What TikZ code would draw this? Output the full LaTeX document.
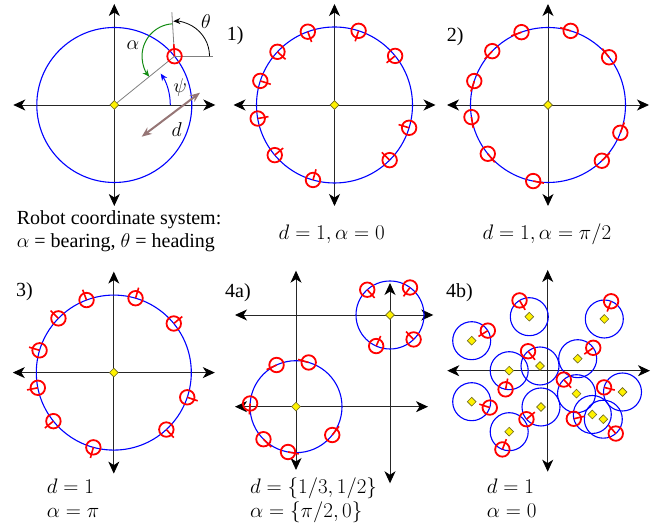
\RequirePackage{fix-cm}
\documentclass[tikz,border=0pt]{standalone}
\usepackage[no-math]{fontspec}
\setmainfont{Liberation Serif}
\usetikzlibrary{arrows.meta,shapes.geometric,calc}
\definecolor{dcol}{RGB}{150,118,118}
\definecolor{acol}{RGB}{20,140,20}
\begin{document}
\begin{tikzpicture}[x=1pt,y=1pt,
  font=\fontsize{20}{24}\selectfont,
  axis/.style={line width=0.9pt, black!85,
    {Stealth[length=12pt,width=11pt,inset=3.5pt,black]}-{Stealth[length=12pt,width=11pt,inset=3.5pt,black]}},
  ring/.style={blue, line width=1.1pt},
  robot/.style={circle, draw=red, line width=1.8pt, minimum size=14.5pt, inner sep=0pt},
  hdg/.style={red, line width=1.6pt},
  ctr/.style={diamond, draw=olive!70!black, fill=yellow, line width=0.6pt, minimum size=9pt, inner sep=0pt},
  guide/.style={gray, line width=0.8pt},
  lab/.style={anchor=base west, inner sep=0pt},
  mlab/.style={anchor=base, inner sep=0pt, font=\fontsize{21}{25}\selectfont},
  mlabw/.style={anchor=base west, inner sep=0pt, font=\fontsize{21}{25}\selectfont},
  smallarrow/.style={-{Stealth[length=7pt,width=6pt]}}]
\useasboundingbox (0,0) rectangle (659,529);

% ---------------- Panel 0: robot coordinate system
\coordinate (O0) at (114.3,424);
\draw[axis] (O0) ++(-101,0) -- ++(202,0);
\draw[axis] (O0) ++(0,101) -- ++(0,-202);
\draw[ring] (O0) circle[radius=77.5pt];
\coordinate (R0) at ($(O0)+(39:77.5)$);
\draw[guide] (O0) -- (R0);
\draw[guide] (R0) -- ++(93.5:44);
\draw[guide] (R0) -- ++(38,0);
\draw[black, line width=0.8pt, smallarrow] (R0) ++(35,0) arc[start angle=0, end angle=92, radius=35pt];
\draw[acol, line width=1pt, smallarrow] (R0) ++(94:32.5) arc[start angle=94, end angle=219, radius=32.5pt];
\draw[blue, line width=1pt, smallarrow] (O0) ++(56,0) arc[start angle=0, end angle=34, radius=56pt];
\node[robot] (r0) at (R0) {};
\draw[hdg] (r0.center) -- ++(93.5:12);
\node[ctr] (c0) at (O0) {};
\coordinate (d1) at (141.7,392.3);
\coordinate (d2) at (200,436.3);
\draw[dcol, line width=2pt, {Stealth[length=10pt,width=8pt]}-{Stealth[length=10pt,width=8pt]}] (d1) -- (d2);
\node (la) at (133,484) {$\alpha$};
\node (lt) at (206,507.3) {$\theta$};
\node (lp) at (180,441) {$\psi$};
\node (ld) at (176.7,399) {$d$};
\node[lab] (cap1) at (16.7,304.7) {Robot coordinate system:};
\node[lab] (cap2) at (16.7,281.3) {$\alpha$ = bearing, $\theta$ = heading};

% ---------------- Panel 1
\coordinate (O1) at (334.5,424);
\draw[axis] (O1) ++(-101,0) -- ++(202,0);
\draw[axis] (O1) ++(0,101) -- ++(0,-202);
\draw[ring] (O1) circle[radius=78pt];
\node[ctr] (c1) at (O1) {};
\foreach \p [count=\i] in {110,72,39,-17,-45,-106,-140,-170,162,137} {
  \node[robot] (ra\i) at ($(O1)+(\p:78)$) {};
  \draw[hdg] (ra\i.center) -- ++(\p+180:11);
}
\node[lab] (l1) at (226.7,488) {1)};
\node[mlab] (m1) at (331.7,289) {$d=1, \alpha=0$};

% ---------------- Panel 2
\coordinate (O2) at (548,424);
\draw[axis] (O2) ++(-101,0) -- ++(202,0);
\draw[axis] (O2) ++(0,101) -- ++(0,-202);
\draw[ring] (O2) circle[radius=77.5pt];
\node[ctr] (c2) at (O2) {};
\foreach \p [count=\i] in {110,73,38,-21,-46,-101,-141,-171,162,136} {
  \node[robot] (rb\i) at ($(O2)+(\p:77.5)$) {};
  \draw[hdg] (rb\i.center) -- ++(\p+90:11);
}
\node[lab] (l2) at (446.7,487.5) {2)};
\node[mlab] (m2) at (547,289) {$d=1, \alpha=\pi/2$};

% ---------------- Panel 3
\coordinate (O3) at (113.8,156.4);
\draw[axis] (O3) ++(-101,0) -- ++(202,0);
\draw[axis] (O3) ++(0,101) -- ++(0,-202);
\draw[ring] (O3) circle[radius=77.5pt];
\node[ctr] (c3) at (O3) {};
\foreach \p [count=\i] in {110.6,73.7,39.3,-18.6,-47.3,-105.3,-141.2,-168.7,163.3,135.6} {
  \node[robot] (rc\i) at ($(O3)+(\p:77.5)$) {};
  \draw[hdg] (rc\i.center) -- ++(\p:11);
}
\node[lab] (l3) at (16,232) {3)};
\node[mlabw] (m3a) at (46.7,35) {$d=1$};
\node[mlabw] (m3b) at (46.7,11) {$\alpha=\pi$};

% ---------------- Panel 4a
\coordinate (O4) at (296,122.3);
\coordinate (O5) at (390,214);
\draw[axis] (235,214) -- (433.3,214);
\draw[axis] (296,258.3) -- (296,59);
\draw[axis] (235,122.3) -- (428,122.3);
\draw[axis] (390,246) -- (390,45.7);
\draw[ring] (O4) circle[radius=46pt];
\draw[ring] (O5) circle[radius=34pt];
\node[ctr] (c4) at (O4) {};
\node[ctr] (c5) at (O5) {};
\foreach \p [count=\i] in {115,74,176,-38,-135,-100} {
  \node[robot] (rd\i) at ($(O4)+(\p:46)$) {};
  \draw[hdg] (rd\i.center) -- ++(\p+90:11);
}
\foreach \p [count=\i] in {132,54,-46,-114} {
  \node[robot] (re\i) at ($(O5)+(\p:34)$) {};
  \draw[hdg] (re\i.center) -- ++(\p+180:11);
}
\node[lab] (l4a) at (225,231.5) {4a)};
\node[mlabw] (m4a) at (250,35) {$d=\{1/3, 1/2\}$};
\node[mlabw] (m4b) at (250,11) {$\alpha=\{\pi/2, 0\}$};

% ---------------- Panel 4b
\coordinate (O6) at (547.7,158.3);
\draw[axis] (447.3,158.3) -- (650,158.3);
\draw[axis] (547.7,259) -- (547.7,57.3);
\foreach \x/\y [count=\i] in {529.3/212.3, 604.3/210, 471.7/188.3, 577.7/170.3, 509.2/158.3,
    540/163, 471.7/127.3, 541/122, 576.5/135.3, 622.5/137, 592.3/114.5, 603.3/109.8, 509.2/97.3} {
  \coordinate (b\i) at (\x,\y);
  \draw[ring] (b\i) circle[radius=19pt];
}
\foreach \p [count=\i] in {121,69,32,35,-101,129,-18,-140,132,166,-167,-49,-111} {
  \node[ctr] (cb\i) at (b\i) {};
  \node[robot] (rf\i) at ($(b\i)+(\p:19)$) {};
  \draw[hdg] (rf\i.center) -- ++(\p+180:11);
}
\node[lab] (l4b) at (446,231.5) {4b)};
\node[mlabw] (m6a) at (486.7,35) {$d=1$};
\node[mlabw] (m6b) at (486.7,11) {$\alpha=0$};
\end{tikzpicture}
\end{document}
